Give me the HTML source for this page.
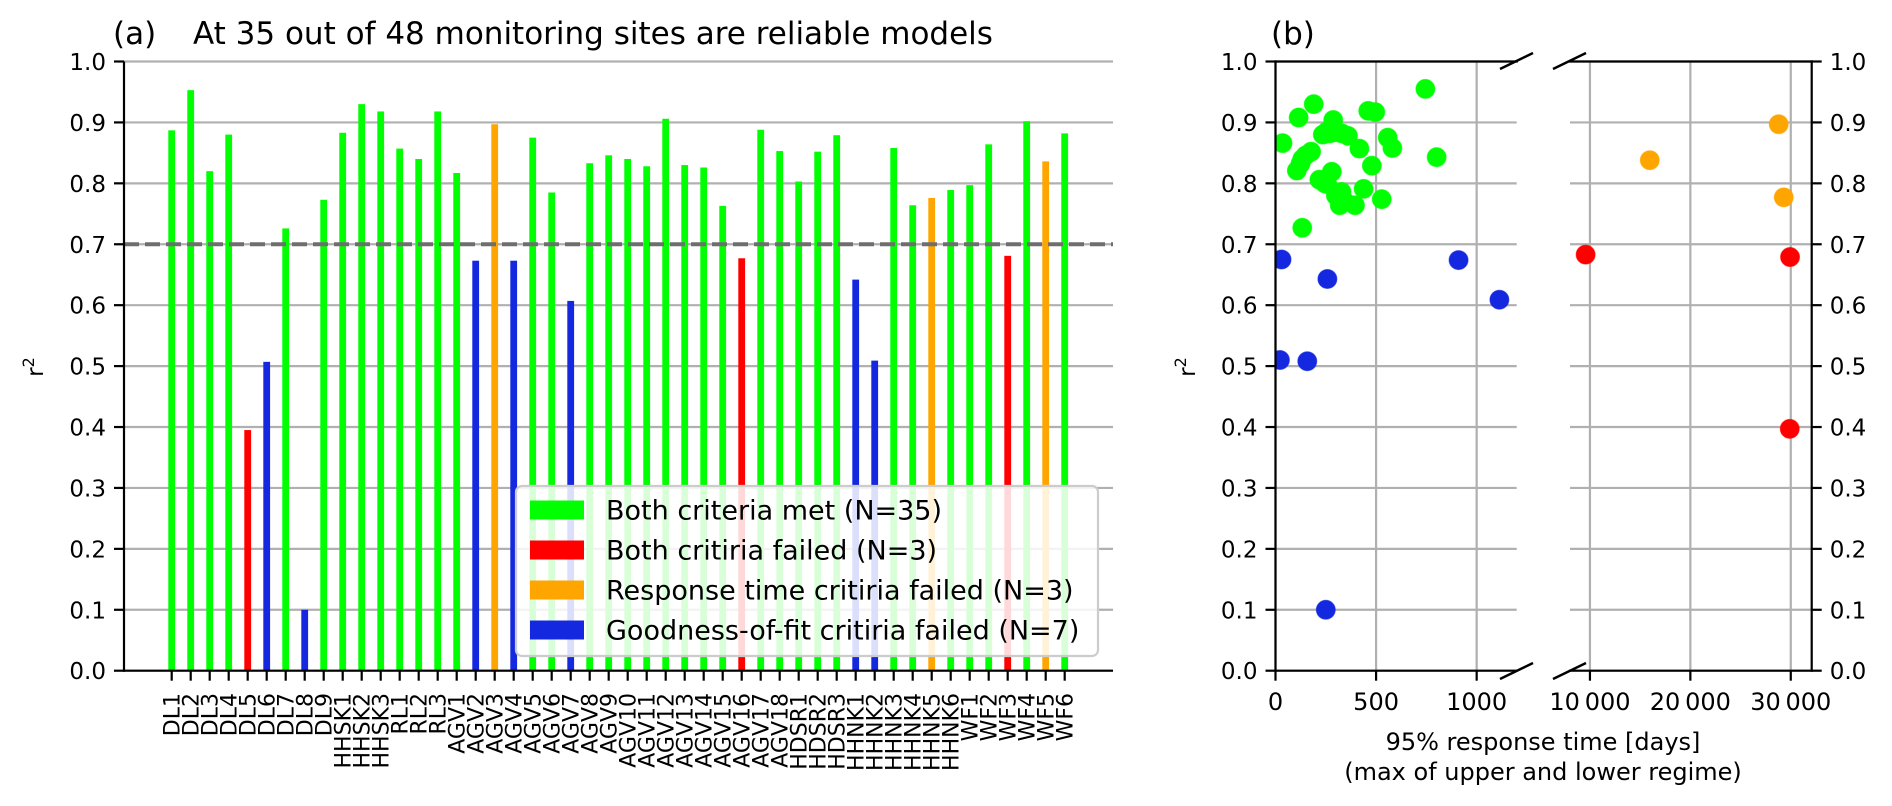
<!DOCTYPE html>
<html><head><meta charset="utf-8">
<style>
html,body{margin:0;padding:0;background:#fff;}
svg{display:block;font-family:"DejaVu Sans","Liberation Sans",sans-serif;}
</style></head>
<body>
<svg id="fig" width="1892" height="806" viewBox="0 0 1892 806" xmlns="http://www.w3.org/2000/svg">
  <g id="pa"></g>
  <g id="pb"></g>
</svg>
<script>
// ---------- Panel (a) data ----------
const sites = ["DL1","DL2","DL3","DL4","DL5","DL6","DL7","DL8","DL9","HHSK1","HHSK2","HHSK3","RL1","RL2","RL3","AGV1","AGV2","AGV3","AGV4","AGV5","AGV6","AGV7","AGV8","AGV9","AGV10","AGV11","AGV12","AGV13","AGV14","AGV15","AGV16","AGV17","AGV18","HDSR1","HDSR2","HDSR3","HHNK1","HHNK2","HHNK3","HHNK4","HHNK5","HHNK6","WF1","WF2","WF3","WF4","WF5","WF6"];
const r2Values = [0.887,0.953,0.820,0.880,0.395,0.507,0.726,0.100,0.773,0.883,0.930,0.918,0.857,0.840,0.918,0.817,0.673,0.897,0.673,0.875,0.785,0.607,0.833,0.846,0.840,0.828,0.906,0.830,0.826,0.763,0.677,0.888,0.853,0.803,0.852,0.879,0.642,0.509,0.858,0.764,0.776,0.789,0.797,0.864,0.681,0.902,0.836,0.882];
const siteCategory = ["g","g","g","g","r","b","g","b","g","g","g","g","g","g","g","g","b","o","b","g","g","b","g","g","g","g","g","g","g","g","r","g","g","g","g","g","b","b","g","g","o","g","g","g","r","g","o","g"];
const yTicks = [0.0,0.1,0.2,0.3,0.4,0.5,0.6,0.7,0.8,0.9,1.0];
const threshold = 0.7;
const legendLabels = ["Both criteria met (N=35)","Both critiria failed (N=3)","Response time critiria failed (N=3)","Goodness-of-fit critiria failed (N=7)"];
const legendKeys = ["g","r","o","b"];

// ---------- Panel (b) data ----------
const greenX = [35,115,190,287,235,255,270,300,330,360,177,150,133,124,106,280,218,257,328,319,395,438,417,461,496,479,528,558,581,745,801,133,245,300,345];
const greenY = [0.866,0.908,0.930,0.904,0.880,0.885,0.882,0.884,0.882,0.878,0.852,0.846,0.840,0.832,0.821,0.819,0.806,0.799,0.786,0.764,0.764,0.791,0.857,0.919,0.917,0.829,0.774,0.875,0.858,0.955,0.843,0.727,0.800,0.780,0.770];
const blueX = [30,258,910,1113,22,158,250];
const blueY = [0.675,0.643,0.674,0.609,0.510,0.508,0.100];
const redX = [9570,29930,29900];
const redY = [0.683,0.679,0.397];
const orangeX = [28800,15960,29300];
const orangeY = [0.897,0.838,0.777];
const xTicksLeft = [0,500,1000];
const xTicksRight = [10000,20000,30000];

const COL = {g:"#00ff00", r:"#ff0000", o:"#ffa500", b:"#1428e0"};
const NS = "http://www.w3.org/2000/svg";
function mk(parent, tag, attrs, text){
  const e = document.createElementNS(NS, tag);
  for (const k in attrs) e.setAttribute(k, attrs[k]);
  if (text !== undefined) e.textContent = text;
  parent.appendChild(e);
  return e;
}
const fmt = v => v.toFixed(1);

const Y0 = 670.7, Y1 = 61.5;
const yS = v => Y0 - v * (Y0 - Y1);

// ================= Panel (a) =================
const pa = document.getElementById("pa");
const AX0 = 124, AX1 = 1113;
const xS = i => 171.7 + i * 19.0;
const barW = 6.8;

yTicks.forEach(t => {
  const gl = mk(pa, "line", {x1:AX0, x2:AX1, y1:yS(t), y2:yS(t), stroke:"#b0b0b0", "stroke-width":2.2});
  
  
});
sites.forEach((s, i) => {
  const v = r2Values[i];
  const b = mk(pa, "rect", {x:xS(i)-barW/2, y:yS(v), width:barW, height:yS(0)-yS(v), fill:COL[siteCategory[i]]});
  
  
});
const th = mk(pa, "line", {x1:AX0, x2:AX1, y1:yS(threshold), y2:yS(threshold), stroke:"#6e6e6e", "stroke-width":4, "stroke-dasharray":"15,6"});


const sl = mk(pa, "line", {x1:AX0, x2:AX0, y1:Y1, y2:Y0+1, stroke:"#000", "stroke-width":2.2});


const sb = mk(pa, "line", {x1:AX0-1, x2:AX1, y1:Y0, y2:Y0, stroke:"#000", "stroke-width":2.2});


yTicks.forEach(t => {
  mk(pa, "line", {x1:AX0-10, x2:AX0, y1:yS(t), y2:yS(t), stroke:"#000", "stroke-width":2.2});
  const tl = mk(pa, "text", {x:AX0-18, y:yS(t)+8.5, "text-anchor":"end", "font-size":23}, fmt(t));
  
  
});
sites.forEach((s, i) => {
  mk(pa, "line", {x1:xS(i), x2:xS(i), y1:Y0, y2:Y0+10, stroke:"#000", "stroke-width":2.2});
  const tl = mk(pa, "text", {x:0, y:0, "text-anchor":"end", "font-size":22, transform:`translate(${xS(i)+8},693) rotate(-90)`}, s);
  
  
});
const ta = mk(pa, "text", {x:113, y:44, "font-size":31}, "(a)");


const tt = mk(pa, "text", {x:193, y:44, "font-size":31}, "At 35 out of 48 monitoring sites are reliable models");


const yl = mk(pa, "text", {x:0, y:0, "font-size":23, "text-anchor":"middle", transform:"translate(43,367) rotate(-90)"});


yl.innerHTML = 'r<tspan dy="-9" font-size="16">2</tspan>';
const lg = mk(pa, "g", {});


mk(lg, "rect", {x:516, y:486, width:582, height:170, rx:6, fill:"#fff", "fill-opacity":0.85, stroke:"#cccccc", "stroke-width":2.2});
legendLabels.forEach((lab, k) => {
  const cy = 510 + k * 40;
  const ent = mk(lg, "g", {});
  
  
  mk(ent, "rect", {x:530, y:cy-9.5, width:54, height:19, fill:COL[legendKeys[k]]});
  mk(ent, "text", {x:606, y:cy+9.5, "font-size":27}, lab);
});

// ================= Panel (b) =================
const pb = document.getElementById("pb");
const L0 = 1275.5, L1 = 1516.7, LXmax = 1199;
const R0 = 1570, R1 = 1811.7, RXmin = 8014, RXmax = 32085;
const xL = v => L0 + v / LXmax * (L1 - L0);
const xR = v => R0 + (v - RXmin) / (RXmax - RXmin) * (R1 - R0);

yTicks.forEach(t => {
  const g1 = mk(pb, "line", {x1:L0, x2:L1, y1:yS(t), y2:yS(t), stroke:"#b0b0b0", "stroke-width":2.2});
  
  
  const g2 = mk(pb, "line", {x1:R0, x2:R1, y1:yS(t), y2:yS(t), stroke:"#b0b0b0", "stroke-width":2.2});
  
  
});
xTicksLeft.forEach(t => {
  const g = mk(pb, "line", {x1:xL(t), x2:xL(t), y1:Y1, y2:Y0, stroke:"#b0b0b0", "stroke-width":2.2});
  
  
});
xTicksRight.forEach(t => {
  const g = mk(pb, "line", {x1:xR(t), x2:xR(t), y1:Y1, y2:Y0, stroke:"#b0b0b0", "stroke-width":2.2});
  
  
});
const defs = mk(pb, "defs", {});
const cpL = mk(defs, "clipPath", {id:"clipL"}); mk(cpL, "rect", {x:L0, y:Y1-12, width:L1-L0, height:Y0-Y1+24});
const cpR = mk(defs, "clipPath", {id:"clipR"}); mk(cpR, "rect", {x:R0, y:Y1-12, width:R1-R0, height:Y0-Y1+24});
const gL = mk(pb, "g", {"clip-path":"url(#clipL)"});
const gR = mk(pb, "g", {"clip-path":"url(#clipR)"});
function pts(xs, ys, c, name){
  xs.forEach((xv, i) => {
    const inLeft = xv <= LXmax;
    const p = mk(inLeft ? gL : gR, "circle", {cx: inLeft ? xL(xv) : xR(xv), cy: yS(ys[i]), r:9.5, fill:COL[c], stroke:COL[c], "stroke-opacity":0.6, "stroke-width":1});
    
    
  });
}
pts(greenX, greenY, "g", "point-both-met");
pts(blueX, blueY, "b", "point-fit-failed");
pts(redX, redY, "r", "point-both-failed");
pts(orangeX, orangeY, "o", "point-response-failed");

[[L0,Y1,L0,Y0],[L0,Y1,L1,Y1],[L0,Y0,L1,Y0],[R0,Y1,R1,Y1],[R0,Y0,R1,Y0],[R1,Y1,R1,Y0]].forEach(s => {
  const e = mk(pb, "line", {x1:s[0], y1:s[1], x2:s[2], y2:s[3], stroke:"#000", "stroke-width":2.2, "stroke-linecap":"square"});
  
  
});
[[1500,69,1533,53],[1553,69,1586,53],[1500,679,1533,663],[1553,679,1586,663]].forEach(s => {
  const e = mk(pb, "line", {x1:s[0], y1:s[1], x2:s[2], y2:s[3], stroke:"#000", "stroke-width":2.4});
  
  
});
yTicks.forEach(t => {
  mk(pb, "line", {x1:L0-10, x2:L0, y1:yS(t), y2:yS(t), stroke:"#000", "stroke-width":2.2});
  const a = mk(pb, "text", {x:L0-18, y:yS(t)+8.5, "text-anchor":"end", "font-size":23}, fmt(t));
  
  
  mk(pb, "line", {x1:R1, x2:R1+10, y1:yS(t), y2:yS(t), stroke:"#000", "stroke-width":2.2});
  const b = mk(pb, "text", {x:R1+18, y:yS(t)+8.5, "text-anchor":"start", "font-size":23}, fmt(t));
  
  
});
xTicksLeft.forEach(t => {
  mk(pb, "line", {x1:xL(t), x2:xL(t), y1:Y0, y2:Y0+10, stroke:"#000", "stroke-width":2.2});
  const a = mk(pb, "text", {x:xL(t), y:710, "text-anchor":"middle", "font-size":24}, String(t));
  
  
});
xTicksRight.forEach(t => {
  mk(pb, "line", {x1:xR(t), x2:xR(t), y1:Y0, y2:Y0+10, stroke:"#000", "stroke-width":2.2});
  const s = String(t);
  const a = mk(pb, "text", {x:xR(t), y:710, "text-anchor":"middle", "font-size":24}, s.slice(0, s.length-3) + "\u2009" + s.slice(-3));
  
  
});
const tb = mk(pb, "text", {x:1271, y:44, "font-size":31}, "(b)");


const yl2 = mk(pb, "text", {x:0, y:0, "font-size":23, "text-anchor":"middle", transform:"translate(1195,367) rotate(-90)"});


yl2.innerHTML = 'r<tspan dy="-9" font-size="16">2</tspan>';
const xl1 = mk(pb, "text", {x:1543, y:750, "text-anchor":"middle", "font-size":24}, "95% response time [days]");


const xl2 = mk(pb, "text", {x:1543, y:780, "text-anchor":"middle", "font-size":24}, "(max of upper and lower regime)");


</script>
</body></html>
